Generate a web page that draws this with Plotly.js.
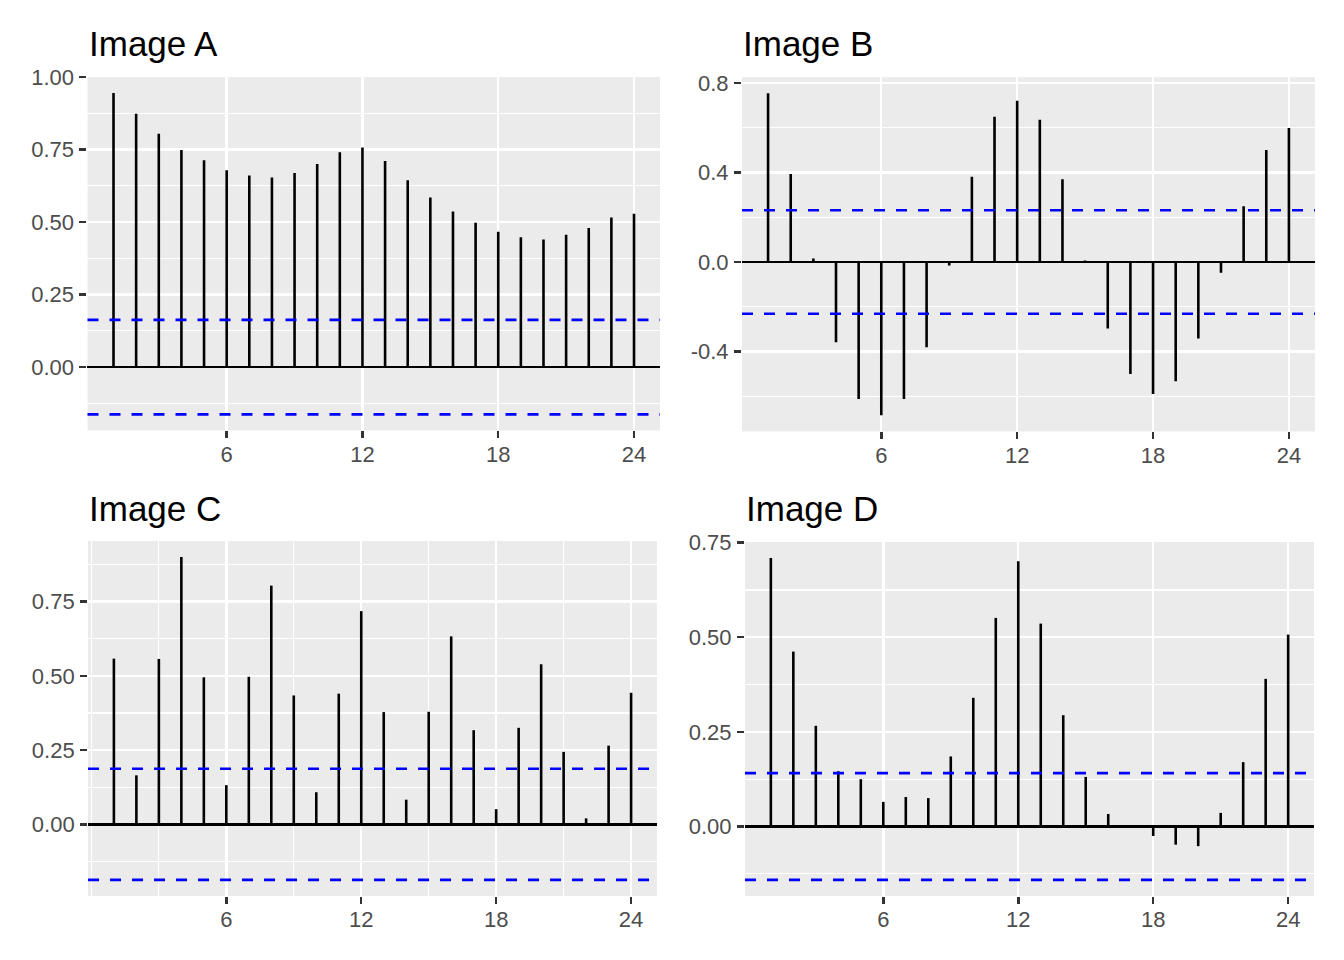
<!DOCTYPE html>
<html>
<head>
<meta charset="utf-8">
<script src="https://cdn.plot.ly/plotly-3.0.1.min.js"></script>
<style>
  html, body { margin: 0; padding: 0; background: #fff; }
  #chart { width: 1344px; height: 960px; }
</style>
</head>
<body>
<div id="chart"></div>
<script>
// lags 1..24, autocorrelation values
const lags = [1, 2, 3, 4, 5, 6, 7, 8, 9, 10, 11, 12, 13, 14, 15, 16, 17, 18, 19, 20, 21, 22, 23, 24];

const acfA = [0.945, 0.874, 0.805, 0.749, 0.713, 0.679, 0.661, 0.654, 0.669, 0.700, 0.741, 0.757,
  0.711, 0.644, 0.585, 0.537, 0.498, 0.467, 0.448, 0.440, 0.456, 0.480, 0.516, 0.529];
const acfB = [0.754, 0.393, 0.016, -0.358, -0.612, -0.685, -0.612, -0.381, -0.015, 0.381, 0.649, 0.721,
  0.636, 0.370, 0.007, -0.297, -0.500, -0.590, -0.533, -0.342, -0.048, 0.249, 0.501, 0.599];
const acfC = [0.558, 0.165, 0.557, 0.900, 0.495, 0.132, 0.497, 0.804, 0.434, 0.108, 0.440, 0.718,
  0.378, 0.083, 0.379, 0.633, 0.317, 0.051, 0.325, 0.539, 0.244, 0.020, 0.265, 0.443];
const acfD = [0.709, 0.462, 0.266, 0.146, 0.125, 0.065, 0.078, 0.075, 0.185, 0.340, 0.551, 0.701,
  0.536, 0.294, 0.131, 0.033, -0.004, -0.025, -0.048, -0.052, 0.036, 0.170, 0.390, 0.507];

// significance bounds (+/-)
const ciA = 0.163;
const ciB = 0.231;
const ciC = 0.187;
const ciD = 0.141;

const titles = ["Image A", "Image B", "Image C", "Image D"];

const xTicks = [6, 12, 18, 24];
const xTicksMinorC = [0, 3, 9, 15, 21];

const yTicksA = [0, 0.25, 0.5, 0.75, 1.0];
const yLabelsA = ["0.00", "0.25", "0.50", "0.75", "1.00"];
const yTicksB = [-0.4, 0, 0.4, 0.8];
const yLabelsB = ["-0.4", "0.0", "0.4", "0.8"];
const yTicksC = [0, 0.25, 0.5, 0.75];
const yLabelsC = ["0.00", "0.25", "0.50", "0.75"];
const yTicksD = [0, 0.25, 0.5, 0.75];
const yLabelsD = ["0.00", "0.25", "0.50", "0.75"];

const FONT = "Liberation Sans, Arial, Helvetica, sans-serif";

// panels: data, bound, tick setup, domains
const panels = [
  { acf: acfA, ci: ciA, yt: yTicksA, yl: yLabelsA, ystep: 0.125,
    dx: [0.0651, 0.4911], dy: [0.5516, 0.9198], tx: 87, ty: 43 },
  { acf: acfB, ci: ciB, yt: yTicksB, yl: yLabelsB, ystep: 0.2,
    dx: [0.5521, 0.9784], dy: [0.5506, 0.9196], tx: 741, ty: 43 },
  { acf: acfC, ci: ciC, yt: yTicksC, yl: yLabelsC, ystep: 0.125, xminor: xTicksMinorC,
    dx: [0.0655, 0.4888], dy: [0.0667, 0.4365], tx: 87, ty: 508 },
  { acf: acfD, ci: ciD, yt: yTicksD, yl: yLabelsD, ystep: 0.125,
    dx: [0.5543, 0.9777], dy: [0.0667, 0.4354], tx: 744, ty: 508 }
];

const traces = [];
const shapes = [];
const annotations = [];
const layout = {
  width: 1344,
  height: 960,
  margin: { t: 0, r: 0, b: 0, l: 0 },
  paper_bgcolor: "#FFFFFF",
  plot_bgcolor: "#EBEBEB",
  showlegend: false,
  font: { family: FONT, color: "#4D4D4D", size: 22 }
};

panels.forEach((p, i) => {
  const n = i === 0 ? "" : String(i + 1);
  const xa = "x" + n, ya = "y" + n;

  // stems
  const xs = [], ys = [];
  lags.forEach((l, k) => { xs.push(l, l, null); ys.push(0, p.acf[k], null); });
  traces.push({
    x: xs, y: ys, xaxis: xa, yaxis: ya,
    type: "scatter", mode: "lines",
    line: { color: "#000000", width: 2.6 },
    hoverinfo: "skip"
  });

  // y range with 5% expansion like ggplot
  const lo = Math.min(-p.ci, ...p.acf), hi = Math.max(p.ci, ...p.acf);
  const pad = (hi - lo) * 0.05;
  const xlo = lags[0], xhi = lags[lags.length - 1];
  const xpad = (xhi - xlo) * 0.05;

  // minor y gridlines between major ticks
  const yminor = [];
  for (let k = 0; k < p.yt.length - 1; k++) yminor.push((p.yt[k] + p.yt[k + 1]) / 2);
  yminor.unshift(p.yt[0] - p.ystep);
  yminor.push(p.yt[p.yt.length - 1] + p.ystep);

  layout["xaxis" + n] = {
    domain: p.dx, anchor: ya,
    range: [xlo - xpad, xhi + xpad],
    tickmode: "array", tickvals: xTicks, ticktext: xTicks.map(String),
    ticks: "outside", ticklen: 7, tickwidth: 2.5, tickcolor: "#333333",
    ticklabelstandoff: -3,
    showgrid: true, gridcolor: "#FFFFFF", gridwidth: 2.4,
    zeroline: false, showline: false,
    tickfont: { family: FONT, size: 22, color: "#4D4D4D" },
    minor: p.xminor ? { tickmode: "array", tickvals: p.xminor, showgrid: true,
      gridcolor: "#FFFFFF", gridwidth: 1.2, ticks: "" } : undefined,
    fixedrange: true
  };
  layout["yaxis" + n] = {
    domain: p.dy, anchor: xa,
    range: [lo - pad, hi + pad],
    tickmode: "array", tickvals: p.yt, ticktext: p.yl,
    ticks: "outside", ticklen: 7, tickwidth: 2.5, tickcolor: "#333333",
    ticklabelstandoff: 1,
    showgrid: true, gridcolor: "#FFFFFF", gridwidth: 2.4,
    zeroline: true, zerolinecolor: "#000000", zerolinewidth: 2.6,
    showline: false,
    tickfont: { family: FONT, size: 22, color: "#4D4D4D" },
    minor: { tickmode: "array", tickvals: yminor, showgrid: true,
      gridcolor: "#FFFFFF", gridwidth: 1.2, ticks: "" },
    fixedrange: true
  };

  // confidence bounds
  [p.ci, -p.ci].forEach((v) => {
    shapes.push({
      type: "line", layer: "above",
      xref: xa + " domain", x0: 0, x1: 1,
      yref: ya, y0: v, y1: v,
      line: { color: "#0000FF", width: 2.6, dash: "11px,11px" }
    });
  });

  annotations.push({
    text: titles[i], showarrow: false,
    xref: "paper", yref: "paper",
    x: p.tx / 1344, y: 1 - p.ty / 960,
    xanchor: "left", yanchor: "middle",
    font: { family: FONT, size: 35, color: "#000000" }
  });
});

layout.shapes = shapes;
layout.annotations = annotations;

Plotly.newPlot("chart", traces, layout, { displayModeBar: false, staticPlot: true });
</script>
</body>
</html>
